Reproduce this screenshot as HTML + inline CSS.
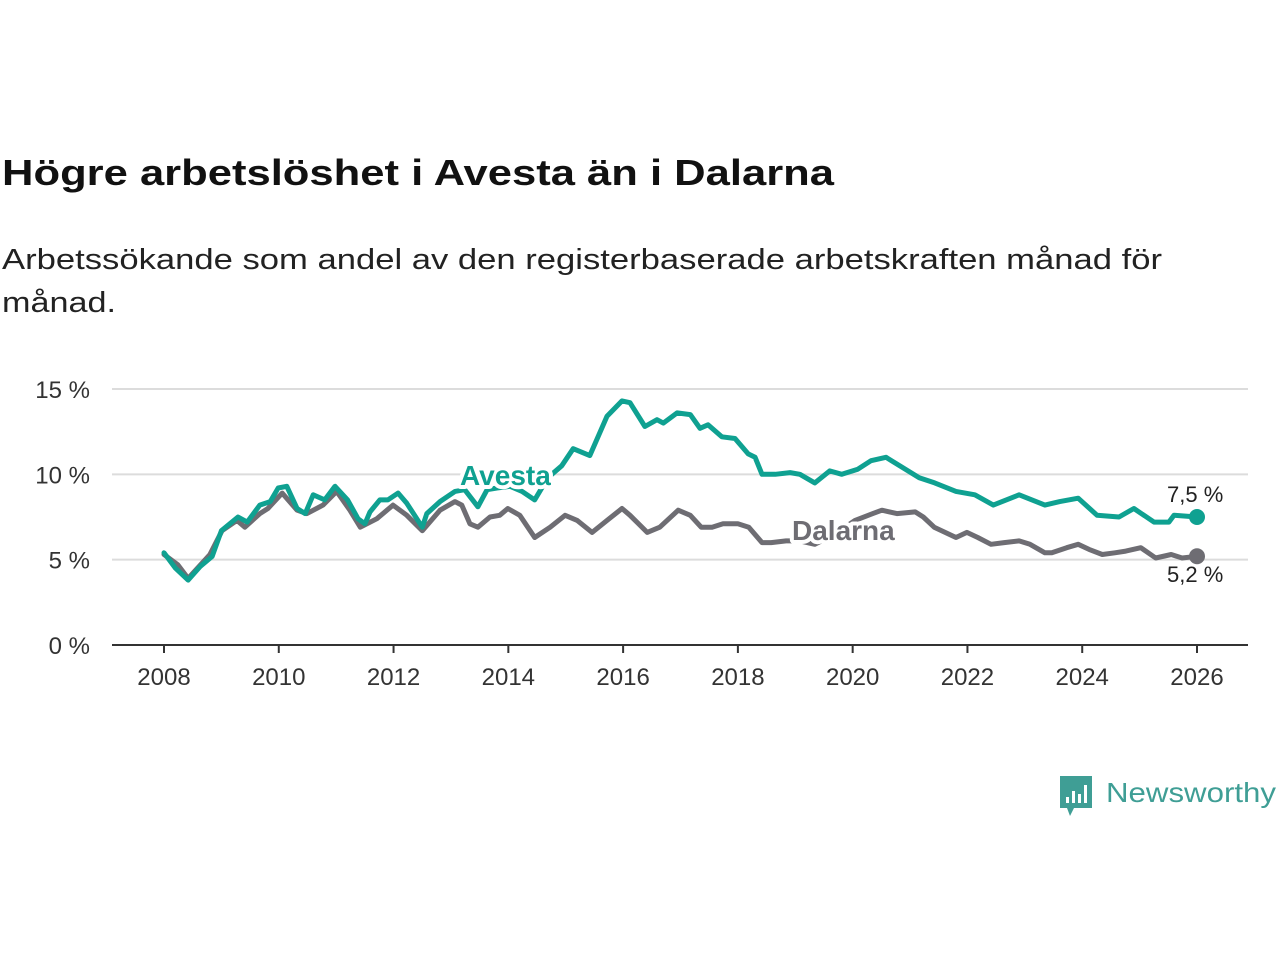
<!DOCTYPE html>
<html><head><meta charset="utf-8"><style>
body{margin:0;background:#fff;}
svg text{font-family:"Liberation Sans","DejaVu Sans",sans-serif;}
</style></head><body>
<svg id="chart" width="1280" height="960" viewBox="0 0 1280 960" xmlns="http://www.w3.org/2000/svg">
<text x="2" y="185" font-size="36" font-weight="bold" fill="#111" textLength="832" lengthAdjust="spacingAndGlyphs">Högre arbetslöshet i Avesta än i Dalarna</text>
<text x="2" y="269" font-size="29" fill="#222" textLength="1160" lengthAdjust="spacingAndGlyphs">Arbetssökande som andel av den registerbaserade arbetskraften månad för</text>
<text x="2" y="312" font-size="29" fill="#222" textLength="114" lengthAdjust="spacingAndGlyphs">månad.</text>
<g id="grid"></g>
<g id="xaxis"></g>
<g id="series"></g>
<g>
<path d="M1060 776 h32 v32 h-18 l-4 8 l-3 -8 h-7 z" fill="#3f9e95"/>
<rect x="1066" y="797" width="3" height="6" fill="#fff"/>
<rect x="1072" y="791" width="3" height="12" fill="#fff"/>
<rect x="1078" y="794" width="3" height="9" fill="#fff"/>
<rect x="1084" y="785" width="3" height="18" fill="#fff"/>
<text x="1106" y="802" font-size="28" fill="#3f9e95" textLength="170" lengthAdjust="spacingAndGlyphs">Newsworthy</text>
</g>
</svg>
<script>
const yTicks=[0,5,10,15];
const yTickLabels=["0 %","5 %","10 %","15 %"];
const xTicks=[2008,2010,2012,2014,2016,2018,2020,2022,2024,2026];
const avestaX=[2008.0,2008.2,2008.42,2008.63,2008.84,2009.0,2009.29,2009.45,2009.67,2009.85,2009.99,2010.14,2010.32,2010.46,2010.6,2010.8,2010.98,2011.2,2011.38,2011.5,2011.59,2011.76,2011.9,2012.08,2012.23,2012.5,2012.58,2012.81,2013.07,2013.24,2013.47,2013.63,2013.8,2014.03,2014.24,2014.46,2014.69,2014.93,2015.13,2015.42,2015.72,2015.98,2016.12,2016.38,2016.59,2016.7,2016.94,2017.17,2017.34,2017.48,2017.72,2017.95,2018.18,2018.3,2018.42,2018.65,2018.91,2019.08,2019.34,2019.6,2019.81,2020.09,2020.32,2020.58,2020.82,2021.16,2021.43,2021.8,2022.13,2022.45,2022.9,2023.35,2023.61,2023.93,2024.26,2024.64,2024.9,2025.25,2025.51,2025.6,2026.0];
const avestaY=[5.4,4.5,3.8,4.6,5.2,6.7,7.5,7.2,8.2,8.4,9.2,9.3,8.0,7.7,8.8,8.5,9.3,8.5,7.4,7.1,7.8,8.5,8.5,8.9,8.3,6.9,7.7,8.4,9.0,9.1,8.1,9.1,9.2,9.3,9.0,8.5,9.8,10.5,11.5,11.1,13.4,14.3,14.2,12.8,13.2,13.0,13.6,13.5,12.7,12.9,12.2,12.1,11.2,11.0,10.0,10.0,10.1,10.0,9.5,10.2,10.0,10.3,10.8,11.0,10.5,9.8,9.5,9.0,8.8,8.2,8.8,8.2,8.4,8.6,7.6,7.5,8.0,7.2,7.2,7.6,7.5];
const dalarnaX=[2008.0,2008.24,2008.42,2008.8,2009.01,2009.27,2009.41,2009.67,2009.81,2010.06,2010.32,2010.49,2010.77,2011.01,2011.24,2011.42,2011.71,2011.99,2012.23,2012.5,2012.81,2013.07,2013.19,2013.33,2013.47,2013.68,2013.85,2013.99,2014.2,2014.46,2014.73,2014.99,2015.2,2015.46,2015.72,2015.98,2016.12,2016.42,2016.64,2016.96,2017.17,2017.36,2017.55,2017.74,2018.0,2018.19,2018.42,2018.58,2018.84,2019.08,2019.34,2019.69,2020.04,2020.35,2020.51,2020.77,2021.09,2021.23,2021.42,2021.61,2021.8,2021.99,2022.18,2022.41,2022.64,2022.9,2023.09,2023.35,2023.47,2023.73,2023.93,2024.12,2024.35,2024.57,2024.76,2025.02,2025.28,2025.55,2025.74,2026.0];
const dalarnaY=[5.3,4.7,3.9,5.3,6.7,7.3,6.9,7.7,8.0,8.9,7.9,7.7,8.2,9.0,7.9,6.9,7.4,8.2,7.6,6.7,7.9,8.4,8.2,7.1,6.9,7.5,7.6,8.0,7.6,6.3,6.9,7.6,7.3,6.6,7.3,8.0,7.6,6.6,6.9,7.9,7.6,6.9,6.9,7.1,7.1,6.9,6.0,6.0,6.1,6.1,5.9,6.5,7.3,7.7,7.9,7.7,7.8,7.5,6.9,6.6,6.3,6.6,6.3,5.9,6.0,6.1,5.9,5.4,5.4,5.7,5.9,5.6,5.3,5.4,5.5,5.7,5.1,5.3,5.1,5.2];
const avestaLast="7,5 %", dalarnaLast="5,2 %";

const NS="http://www.w3.org/2000/svg";
const X=v=>164+(v-2008)*(1197-164)/18;
const Y=v=>645-v*(645-389)/15;
function mk(tag,attrs,parent,txt){const e=document.createElementNS(NS,tag);for(const k in attrs)e.setAttribute(k,attrs[k]);if(txt!==undefined)e.textContent=txt;parent.appendChild(e);return e;}
const grid=document.getElementById('grid'),xa=document.getElementById('xaxis'),ser=document.getElementById('series');
yTicks.forEach((t,i)=>{
  if(t>0){const l=mk('line',{x1:112,x2:1248,y1:Y(t),y2:Y(t),stroke:'#dcdcdc','stroke-width':2},grid);
  
  }
  const tx=mk('text',{x:90,y:Y(t)+9,'font-size':24,fill:'#333','text-anchor':'end'},grid,yTickLabels[i]);
  
  
});
const base=mk('line',{x1:112,x2:1248,y1:645,y2:645,stroke:'#333','stroke-width':2},xa);


xTicks.forEach(t=>{
  const tk=mk('line',{x1:X(t),x2:X(t),y1:645,y2:653,stroke:'#333','stroke-width':2},xa);
  
  
  const tx=mk('text',{x:X(t),y:685,'font-size':24,fill:'#333','text-anchor':'middle'},xa,String(t));
  
  
});
function line(xs,ys,color,name){
  const d=xs.map((x,i)=>(i?'L':'M')+X(x).toFixed(1)+' '+Y(ys[i]).toFixed(1)).join(' ');
  const p=mk('path',{d:d,fill:'none',stroke:color,'stroke-width':5,'stroke-linejoin':'round','stroke-linecap':'round'},ser);
  
  
  const c=mk('circle',{cx:X(xs[xs.length-1]),cy:Y(ys[ys.length-1]),r:8,fill:color},ser);
  
  
}
line(dalarnaX,dalarnaY,'#6e6d73','dalarna');
line(avestaX,avestaY,'#0fa191','avesta');
function lab(x,y,txt,color,name,size,bold){
  const t=mk('text',{x:x,y:y,'font-size':size,'font-weight':bold?'bold':'normal',fill:color,stroke:'#fff','stroke-width':bold?8:6,'paint-order':'stroke','stroke-linejoin':'round'},ser,txt);
  
  
}
lab(460,485,'Avesta','#0fa191','avesta-label',28,true);
lab(792,540,'Dalarna','#6e6d73','dalarna-label',28,true);
lab(1167,502,avestaLast,'#222','avesta-end-value',22,false);
lab(1167,582,dalarnaLast,'#222','dalarna-end-value',22,false);
</script>
</body></html>
